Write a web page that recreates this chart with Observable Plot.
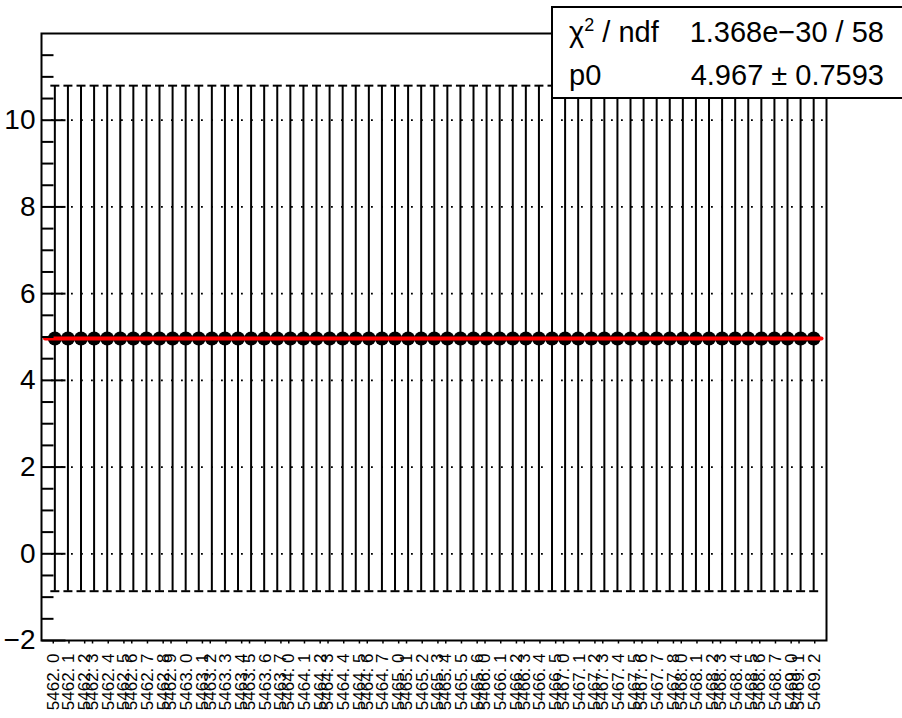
<!DOCTYPE html>
<html><head><meta charset="utf-8">
<script src="https://cdn.jsdelivr.net/npm/d3@7"></script>
<script src="https://cdn.jsdelivr.net/npm/@observablehq/plot@0.6"></script>
<style>
html,body{margin:0;padding:0;background:#fff;overflow:hidden}
#wrap{position:relative;width:902px;height:718px;font-family:"Liberation Sans",Arial,Helvetica,sans-serif}
#wrap svg{position:absolute;left:0;top:0}
#stats{position:absolute;left:551px;top:6px;width:349px;height:89px;border:2px solid #000;background:#fff;font-size:29px;color:#000}
#stats span{position:absolute;line-height:1;white-space:nowrap}
#stats sup{font-size:0.62em;vertical-align:0.6em;line-height:0}
</style></head><body><div id="wrap"></div>
<script>
// point labels (x axis)
const labels = [
 "5462. 0","5462. 1","5462. 2","5462. 3","5462. 4","5462. 5","5462. 6","5462. 7","5462. 8","5462. 9",
 "5463. 0","5463. 1","5463. 2","5463. 3","5463. 4","5463. 5","5463. 6","5463. 7",
 "5464. 0","5464. 1","5464. 2","5464. 3","5464. 4","5464. 5","5464. 6","5464. 7",
 "5465. 0","5465. 1","5465. 2","5465. 3","5465. 4","5465. 5","5465. 6",
 "5466. 0","5466. 1","5466. 2","5466. 3","5466. 4","5466. 5",
 "5467. 0","5467. 1","5467. 2","5467. 3","5467. 4","5467. 5","5467. 6","5467. 7","5467. 8",
 "5468. 0","5468. 1","5468. 2","5468. 3","5468. 4","5468. 5","5468. 6","5468. 7",
 "5469. 0","5469. 1","5469. 2"
];
// measured values
const values = [
 4.967,4.967,4.967,4.967,4.967,4.967,4.967,4.967,4.967,4.967,
 4.967,4.967,4.967,4.967,4.967,4.967,4.967,4.967,4.967,4.967,
 4.967,4.967,4.967,4.967,4.967,4.967,4.967,4.967,4.967,4.967,
 4.967,4.967,4.967,4.967,4.967,4.967,4.967,4.967,4.967,4.967,
 4.967,4.967,4.967,4.967,4.967,4.967,4.967,4.967,4.967,4.967,
 4.967,4.967,4.967,4.967,4.967,4.967,4.967,4.967,4.967
];
// errors
const errors = [
 5.83,5.83,5.83,5.83,5.83,5.83,5.83,5.83,5.83,5.83,
 5.83,5.83,5.83,5.83,5.83,5.83,5.83,5.83,5.83,5.83,
 5.83,5.83,5.83,5.83,5.83,5.83,5.83,5.83,5.83,5.83,
 5.83,5.83,5.83,5.83,5.83,5.83,5.83,5.83,5.83,5.83,
 5.83,5.83,5.83,5.83,5.83,5.83,5.83,5.83,5.83,5.83,
 5.83,5.83,5.83,5.83,5.83,5.83,5.83,5.83,5.83
];
// fit result
const fitP0 = 4.967;
const fitRange = [-0.75, 58.6];
const statsNames = ["χ<sup>2</sup> / ndf", "p0"];
const statsValues = ["1.368e\u221230 / 58", "4.967 \u00b1 0.7593"];
// axes
const xDomain = [-1.02, 58.98];
const yDomain = [-2, 12];
const yTicks = [-2, 0, 2, 4, 6, 8, 10];
const yMinorTicks = [-1.5,-1,-0.5,0.5,1,1.5,2.5,3,3.5,4.5,5,5.5,6.5,7,7.5,8.5,9,9.5,10.5,11,11.5];
const yGrid = [0, 2, 4, 6, 8, 10];
const nBins = 100;

const points = values.map((v, i) => ({i, v, lo: v - errors[i], hi: v + errors[i], label: labels[i]}));
// ROOT-like alphanumeric axis: label placed at centre of the histogram bin holding the point
const bw = (xDomain[1] - xDomain[0]) / nBins;
points.forEach(p => { p.lx = xDomain[0] + (Math.floor((p.i - xDomain[0]) / bw) + 0.5) * bw; });
const fitLine = fitRange.map(x => ({x, y: fitP0}));

const hSym = {draw(ctx, size){ const r = Math.sqrt(size / Math.PI); ctx.moveTo(-r, 0); ctx.lineTo(r, 0); }};
const tickRight = {draw(ctx, size){ const r = Math.sqrt(size / Math.PI); ctx.moveTo(0, 0); ctx.lineTo(r, 0); }};
const tickDown = {draw(ctx, size){ const r = Math.sqrt(size / Math.PI); ctx.moveTo(0, 0); ctx.lineTo(0, r); }};

const fmt = d => d < 0 ? "\u2212" + (-d) : String(d);

const chart = Plot.plot({
  width: 902, height: 718,
  marginLeft: 41, marginRight: 76, marginTop: 33, marginBottom: 78,
  style: {background: "transparent", fontFamily: "'Liberation Sans', Arial, Helvetica, sans-serif", fontSize: "28px", color: "#000", overflow: "visible"},
  x: {domain: xDomain, axis: null},
  y: {domain: yDomain, ticks: yTicks, tickSize: 0, tickPadding: 6, tickFormat: fmt, label: null},
  marks: [
    Plot.ruleY(yGrid, {y: d => d, stroke: "#000", strokeWidth: 1.8, strokeDasharray: "1.8,8.2"}),
    Plot.ruleX(points, {x: "i", y1: "lo", y2: "hi", stroke: "#000", strokeWidth: 2}),
    Plot.dot(points, {x: "i", y: "hi", symbol: hSym, r: 4.5, stroke: "#000", strokeWidth: 2, fill: "none"}),
    Plot.dot(points, {x: "i", y: "lo", symbol: hSym, r: 4.5, stroke: "#000", strokeWidth: 2, fill: "none"}),
    Plot.dot(points, {x: "i", y: "v", r: 7, fill: "#000", stroke: "none"}),
    Plot.line(fitLine, {x: "x", y: "y", stroke: "#ff0000", strokeWidth: 4}),
    Plot.dot(yTicks, {x: () => xDomain[0], y: d => d, symbol: tickRight, r: 24, stroke: "#000", strokeWidth: 2, fill: "none"}),
    Plot.dot(yMinorTicks, {x: () => xDomain[0], y: d => d, symbol: tickRight, r: 12, stroke: "#000", strokeWidth: 2, fill: "none"}),
    Plot.dot(points, {x: "lx", y: () => yDomain[0], symbol: tickDown, r: 3, stroke: "#000", strokeWidth: 1.5, fill: "none"}),
    Plot.text(points, {x: "lx", y: () => yDomain[0], text: "label", rotate: -90, textAnchor: "end", dy: 13, fontSize: 17}),
    Plot.frame({stroke: "#000", strokeWidth: 2})
  ]
});
// ROOT-sized y tick labels
d3.select(chart).selectAll('g[aria-label^="y-axis"]').attr("font-size", 28)
  .selectAll("text").attr("font-size", 28);
const wrap = document.getElementById("wrap");
wrap.appendChild(chart);
const stats = document.createElement("div");
stats.id = "stats";
stats.innerHTML =
  `<span style="left:16px;top:10px">${statsNames[0]}</span><span style="right:18px;top:10px">${statsValues[0]}</span>` +
  `<span style="left:16px;top:53px">${statsNames[1]}</span><span style="right:18px;top:53px">${statsValues[1]}</span>`;
wrap.appendChild(stats);
</script></body></html>
